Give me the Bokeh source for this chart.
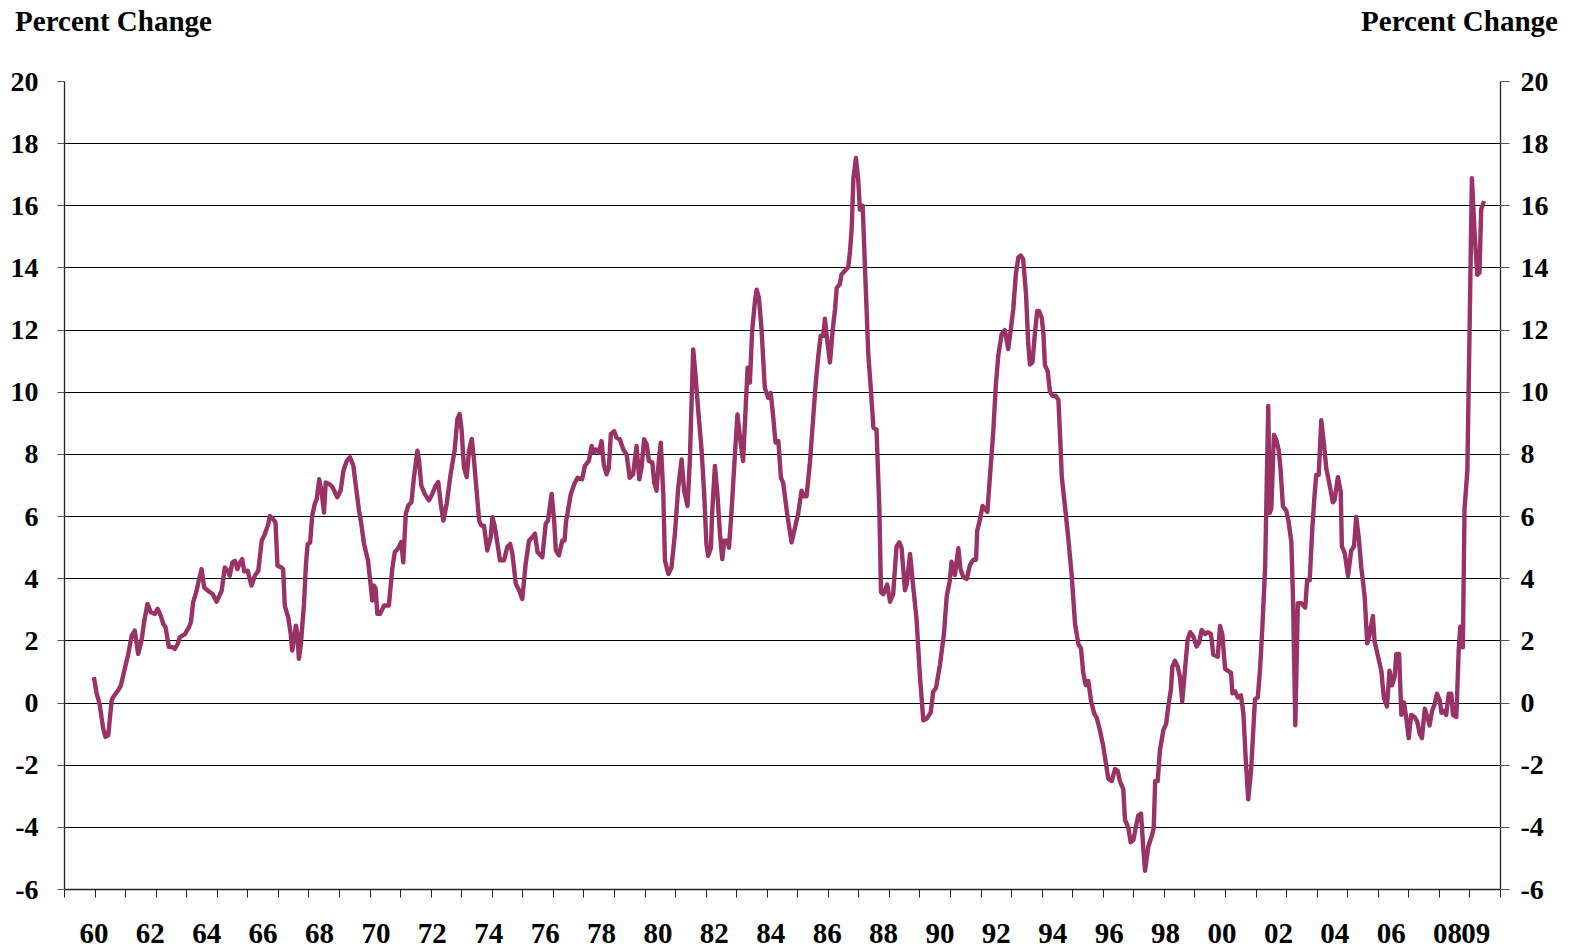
from bokeh.plotting import figure
from bokeh.models import (ColumnDataSource, LinearAxis, FixedTicker, Range1d, CustomJSTickFormatter)
from bokeh.embed import file_html
from bokeh.resources import INLINE

# ---- data: (fractional year, percent change) ----
seg_1960s = [
    (1960.0, 0.83), (1960.1, 0.30), (1960.2, -0.02), (1960.33, -0.82), (1960.41, -1.09),
    (1960.51, -1.04), (1960.63, 0.09), (1960.69, 0.2), (1960.86, 0.41), (1960.96, 0.57),
    (1961.08, 1.05), (1961.22, 1.58), (1961.34, 2.17), (1961.45, 2.33), (1961.57, 1.58),
    (1961.69, 2.01), (1961.78, 2.6), (1961.9, 3.19), (1962.02, 2.92), (1962.16, 2.87),
    (1962.26, 3.03), (1962.37, 2.81), (1962.46, 2.55), (1962.54, 2.44), (1962.66, 1.8),
    (1962.78, 1.8), (1962.87, 1.74), (1962.97, 1.9), (1963.05, 2.12), (1963.23, 2.22),
    (1963.37, 2.44), (1963.44, 2.6), (1963.52, 3.24), (1963.64, 3.61), (1963.72, 3.94),
    (1963.82, 4.31), (1963.91, 3.72), (1964.05, 3.61), (1964.21, 3.51), (1964.35, 3.26),
    (1964.53, 3.61), (1964.64, 4.36), (1964.74, 4.26), (1964.82, 4.1), (1964.91, 4.52),
    (1965.0, 4.58), (1965.09, 4.31), (1965.18, 4.52), (1965.26, 4.63), (1965.33, 4.24),
    (1965.45, 4.26), (1965.59, 3.78), (1965.71, 4.1), (1965.83, 4.26), (1965.95, 5.22),
    (1966.06, 5.43), (1966.18, 5.75), (1966.24, 6.02), (1966.36, 5.91), (1966.44, 5.81),
    (1966.51, 4.42), (1966.65, 4.36), (1966.71, 4.31), (1966.77, 3.13), (1966.89, 2.76),
    (1966.98, 2.22), (1967.03, 1.69), (1967.1, 2.06), (1967.16, 2.49), (1967.21, 2.28),
    (1967.27, 1.42), (1967.34, 1.9), (1967.45, 3.19), (1967.52, 4.47), (1967.58, 5.11),
    (1967.67, 5.17), (1967.74, 6.02), (1967.83, 6.4), (1967.9, 6.56), (1967.99, 7.2),
    (1968.07, 6.82), (1968.16, 6.13),
]
seg_1970s = [
    (1968.22, 7.1), (1968.34, 7.05), (1968.46, 6.95), (1968.63, 6.62), (1968.75, 6.84),
    (1968.85, 7.48), (1968.97, 7.8), (1969.08, 7.91), (1969.2, 7.64), (1969.28, 7.05),
    (1969.4, 6.2), (1969.48, 5.77), (1969.58, 5.12), (1969.72, 4.59), (1969.81, 3.84),
    (1969.87, 3.3), (1969.93, 3.78), (1969.99, 3.68), (1970.05, 2.87), (1970.15, 2.87),
    (1970.29, 3.14), (1970.46, 3.14), (1970.58, 4.32), (1970.67, 4.86), (1970.78, 4.96),
    (1970.9, 5.18), (1970.97, 4.53), (1971.06, 6.09), (1971.15, 6.36), (1971.26, 6.46),
    (1971.35, 7.27), (1971.47, 8.12), (1971.53, 7.8), (1971.61, 7.0), (1971.73, 6.73),
    (1971.88, 6.52), (1972.0, 6.73), (1972.12, 7.0), (1972.21, 7.11), (1972.3, 6.41),
    (1972.39, 5.87), (1972.51, 6.41), (1972.65, 7.37), (1972.79, 8.12), (1972.89, 9.14),
    (1972.97, 9.3), (1973.04, 8.77), (1973.12, 7.59), (1973.22, 7.27), (1973.3, 8.12),
    (1973.4, 8.5), (1973.48, 7.8), (1973.57, 6.84), (1973.66, 5.87), (1973.74, 5.71),
    (1973.83, 5.71), (1973.95, 4.91), (1974.07, 5.34), (1974.13, 5.98), (1974.21, 5.71),
    (1974.31, 5.12), (1974.4, 4.59), (1974.54, 4.59), (1974.66, 5.02), (1974.76, 5.12),
    (1974.84, 4.8), (1974.96, 3.84), (1975.08, 3.62), (1975.19, 3.35), (1975.31, 4.48),
    (1975.43, 5.23), (1975.55, 5.34), (1975.64, 5.45), (1975.73, 4.86), (1975.9, 4.69),
    (1976.02, 5.77), (1976.1, 5.87), (1976.23, 6.73), (1976.32, 5.87), (1976.38, 4.91),
    (1976.49, 4.75), (1976.61, 5.23), (1976.69, 5.23), (1976.74, 5.82),
    (1976.91, 6.72), (1977.03, 7.04), (1977.15, 7.25), (1977.31, 7.2), (1977.41, 7.63),
    (1977.55, 7.79), (1977.65, 8.27), (1977.74, 8.06), (1977.82, 8.16), (1977.91, 8.06),
    (1978.0, 8.43), (1978.08, 7.68), (1978.18, 7.36), (1978.26, 7.58), (1978.33, 8.65),
    (1978.45, 8.75), (1978.53, 8.54), (1978.65, 8.49), (1978.77, 8.16), (1978.89, 8.0),
    (1979.0, 7.25), (1979.12, 7.36), (1979.24, 8.27), (1979.34, 7.2), (1979.42, 7.58),
    (1979.51, 8.49), (1979.6, 8.33), (1979.68, 7.79), (1979.8, 7.74), (1979.87, 7.09),
    (1979.95, 6.83),
]
seg_1980s = [
    (1980.03, 7.79), (1980.1, 8.38), (1980.19, 6.72), (1980.25, 4.58), (1980.37, 4.15),
    (1980.48, 4.36), (1980.6, 5.43), (1980.72, 6.93), (1980.84, 7.84), (1980.93, 6.83),
    (1981.05, 6.34), (1981.13, 7.79), (1981.25, 11.38), (1981.33, 10.57), (1981.43, 9.4),
    (1981.55, 8.11), (1981.64, 6.72), (1981.72, 5.11), (1981.78, 4.74), (1981.88, 5.0),
    (1981.92, 6.08), (1982.02, 7.63), (1982.11, 6.72), (1982.2, 5.43), (1982.28, 4.63),
    (1982.35, 5.22), (1982.46, 5.22), (1982.52, 5.0), (1982.61, 6.18), (1982.73, 8.0),
    (1982.82, 9.29), (1982.91, 8.54), (1983.02, 7.79), (1983.11, 9.5), (1983.18, 10.79),
    (1983.26, 10.31), (1983.34, 11.97), (1983.44, 12.93), (1983.5, 13.3), (1983.58, 13.04),
    (1983.67, 12.07), (1983.79, 10.14), (1983.91, 9.82), (1984.0, 9.98), (1984.09, 9.18),
    (1984.17, 8.38), (1984.27, 8.43), (1984.36, 7.25), (1984.44, 7.09), (1984.6, 5.97),
    (1984.74, 5.17), (1984.86, 5.65), (1984.97, 6.08),
    (1985.09, 6.83), (1985.18, 6.65), (1985.27, 6.65), (1985.39, 7.75), (1985.51, 9.23),
    (1985.6, 10.34), (1985.69, 11.2), (1985.77, 11.82), (1985.86, 11.82), (1985.92, 12.37),
    (1986.0, 11.69), (1986.1, 10.96), (1986.19, 11.94), (1986.28, 12.68), (1986.34, 13.36),
    (1986.45, 13.48), (1986.51, 13.79), (1986.63, 13.91), (1986.75, 14.03), (1986.81, 14.53),
    (1986.87, 15.27), (1986.93, 16.87), (1987.02, 17.54), (1987.1, 16.87), (1987.16, 15.88),
    (1987.26, 16.0), (1987.34, 14.03), (1987.46, 11.2), (1987.54, 10.22), (1987.64, 8.86),
    (1987.75, 8.8), (1987.85, 6.28), (1987.91, 3.57), (1987.99, 3.5), (1988.13, 3.81),
    (1988.23, 3.26), (1988.34, 3.5), (1988.46, 5.04), (1988.56, 5.17), (1988.64, 4.98),
    (1988.76, 3.63), (1988.82, 3.81), (1988.94, 4.8), (1989.03, 3.94), (1989.17, 2.7),
    (1989.29, 0.86), (1989.41, -0.56), (1989.53, -0.5), (1989.67, -0.31), (1989.76, 0.36),
    (1989.86, 0.49),
]
seg_1990s = [
    (1990.0, 1.23), (1990.14, 2.21), (1990.24, 3.44), (1990.35, 3.94), (1990.41, 4.55),
    (1990.53, 4.12), (1990.65, 4.98), (1990.73, 4.3), (1990.83, 4.05), (1990.95, 3.99),
    (1991.06, 4.43), (1991.18, 4.61), (1991.28, 4.61), (1991.32, 5.54), (1991.42, 5.91),
    (1991.51, 6.34), (1991.68, 6.15), (1991.77, 7.26), (1991.89, 8.74), (1991.98, 10.22),
    (1992.07, 11.2), (1992.19, 11.88), (1992.3, 12.0), (1992.42, 11.39), (1992.5, 11.94),
    (1992.6, 12.68), (1992.69, 13.79), (1992.78, 14.34), (1992.86, 14.4), (1992.95, 14.28),
    (1993.05, 13.17), (1993.13, 11.57), (1993.19, 10.89), (1993.28, 10.96), (1993.37, 11.94),
    (1993.45, 12.62), (1993.51, 12.62), (1993.61, 12.39), (1993.67, 11.86), (1993.72, 10.88),
    (1993.82, 10.68), (1993.9, 10.02), (1993.98, 9.89), (1994.1, 9.89), (1994.2, 9.76),
    (1994.26, 8.58), (1994.32, 7.27), (1994.43, 6.35), (1994.55, 5.3), (1994.67, 4.12),
    (1994.79, 2.54), (1994.91, 1.89), (1995.0, 1.76), (1995.08, 0.97), (1995.17, 0.58),
    (1995.26, 0.71), (1995.36, 0.05), (1995.47, -0.34), (1995.56, -0.48), (1995.67, -0.87),
    (1995.79, -1.39), (1995.88, -1.92), (1995.97, -2.44), (1996.09, -2.51), (1996.21, -2.12),
    (1996.3, -2.18), (1996.38, -2.51), (1996.5, -2.77), (1996.56, -3.76), (1996.68, -4.02),
    (1996.76, -4.48), (1996.86, -4.41), (1996.94, -4.02), (1997.03, -3.62), (1997.13, -3.56),
    (1997.21, -4.67), (1997.27, -5.4), (1997.39, -4.61), (1997.51, -4.28), (1997.58, -4.02),
    (1997.63, -2.51), (1997.72, -2.51), (1997.8, -1.52), (1997.92, -0.87), (1998.02, -0.67),
    (1998.1, -0.08), (1998.19, 0.44), (1998.24, 1.17), (1998.33, 1.36), (1998.43, 1.17),
    (1998.51, 0.84), (1998.59, 0.05), (1998.69, 1.1), (1998.78, 2.02), (1998.87, 2.28),
    (1998.98, 2.15), (1999.1, 1.82), (1999.19, 1.95), (1999.28, 2.35), (1999.4, 2.22),
    (1999.49, 2.28), (1999.61, 2.22), (1999.69, 1.56), (1999.85, 1.49), (1999.93, 2.48),
]
seg_2000s = [
    (2000.01, 2.22), (2000.11, 1.1), (2000.23, 1.03), (2000.32, 0.97), (2000.37, 0.31),
    (2000.46, 0.38), (2000.56, 0.18), (2000.67, 0.25), (2000.76, -0.34), (2000.84, -1.79),
    (2000.93, -3.1), (2001.03, -2.18), (2001.11, -0.87), (2001.17, 0.12), (2001.27, 0.18),
    (2001.35, 1.1), (2001.43, 2.41), (2001.53, 4.38), (2001.58, 6.74), (2001.64, 9.56),
    (2001.69, 6.12), (2001.75, 6.26), (2001.84, 8.63), (2001.92, 8.49), (2002.01, 8.15),
    (2002.08, 7.48), (2002.16, 6.33), (2002.28, 6.19), (2002.36, 5.85), (2002.46, 5.17),
    (2002.52, 3.28), (2002.6, -0.72), (2002.69, 3.21), (2002.81, 3.21), (2002.95, 3.07),
    (2003.02, 3.95), (2003.11, 3.95), (2003.2, 5.58), (2003.28, 6.66), (2003.34, 7.34),
    (2003.43, 7.34), (2003.52, 9.1), (2003.62, 8.29), (2003.7, 7.54), (2003.79, 7.14),
    (2003.93, 6.46), (2003.99, 6.53), (2004.11, 7.27), (2004.21, 6.8), (2004.25, 5.04),
    (2004.35, 4.83), (2004.47, 4.09), (2004.58, 4.9), (2004.68, 5.04), (2004.76, 5.99),
    (2004.85, 5.31), (2004.94, 4.36), (2005.06, 3.41), (2005.15, 1.92), (2005.23, 2.19),
    (2005.35, 2.8), (2005.41, 1.99), (2005.53, 1.51), (2005.65, 1.04), (2005.74, 0.16),
    (2005.85, -0.11), (2005.94, 1.04), (2006.03, 0.57), (2006.12, 0.84), (2006.18, 1.58),
    (2006.28, 1.58), (2006.36, -0.38), (2006.45, 0.02), (2006.54, -0.52), (2006.62, -1.13),
    (2006.71, -0.38), (2006.83, -0.45), (2006.92, -0.59), (2007.01, -0.99), (2007.09, -1.13),
    (2007.19, -0.18), (2007.28, -0.45), (2007.36, -0.72), (2007.45, -0.25), (2007.54, -0.04),
    (2007.62, 0.3), (2007.72, 0.09), (2007.78, -0.31), (2007.87, -0.25), (2007.95, -0.38),
    (2008.04, 0.3), (2008.13, 0.3), (2008.19, -0.38), (2008.31, -0.45), (2008.39, 1.65),
    (2008.45, 2.46), (2008.54, 1.79), (2008.6, 6.26), (2008.7, 7.48), (2008.78, 12.08),
    (2008.86, 16.89), (2008.96, 15.07), (2009.05, 13.78), (2009.13, 13.85), (2009.19, 15.88),
    (2009.29, 16.15),
]

label_years = list(range(1960, 2009, 2)) + [2009]
y_ticks = list(range(-6, 21, 2))
header_text = "Percent Change"

# ---- build ----
pts = seg_1960s + seg_1970s + seg_1980s + seg_1990s + seg_2000s
src = ColumnDataSource(data=dict(year=[p[0] for p in pts], pct=[p[1] for p in pts]))

x_start = 1959 - 1 / 24.0          # category axis starts half a month before Jan 1959
x_end = x_start + 611 / 12.0       # 611 monthly categories
FONT = "Liberation Serif"
W, H = 1566, 948
BL, BR, BT, BB = 64, 66, 81, 59
px_per_year = (W - BL - BR) / (x_end - x_start)

p = figure(width=W, height=H, output_backend="svg", toolbar_location=None,
           x_range=Range1d(x_start, x_end), y_range=Range1d(-6, 20),
           min_border_left=BL, min_border_right=BR, min_border_top=BT, min_border_bottom=BB,
           background_fill_color="white", border_fill_color="white")
p.outline_line_color = None

p.line("year", "pct", source=src, line_color="#993366", line_width=4.4, line_join="round")

# grid
p.xgrid.visible = False
p.ygrid.ticker = FixedTicker(ticks=y_ticks)
p.ygrid.grid_line_color = "#000000"
p.ygrid.grid_line_width = 1

# x axis
xa = p.xaxis[0]
minor = [x_start + k * 13 / 12.0 for k in range(48)]
xa.ticker = FixedTicker(ticks=label_years, minor_ticks=minor)
xa.major_label_overrides = {y: f"{y % 100:02d}" for y in label_years}
xa.major_tick_out = 0
xa.major_tick_in = 0
xa.minor_tick_out = 8
xa.minor_tick_in = 0
xa.minor_tick_line_color = "#222222"
xa.axis_line_color = "#222222"
xa.axis_line_width = 1.3
xa.major_label_standoff = 26
xa.major_label_text_font = FONT
xa.major_label_text_font_style = "bold"
xa.major_label_text_font_size = "29px"
xa.major_label_text_color = "black"

# y axes (left and right)
ya = p.yaxis[0]
ya_r = LinearAxis()
p.add_layout(ya_r, "right")
for ax, out, stand in ((ya, 7, 19), (ya_r, 9, 11)):
    ax.ticker = FixedTicker(ticks=y_ticks)
    ax.major_label_overrides = {v: str(v) for v in y_ticks}
    ax.major_tick_out = out
    ax.major_tick_in = 0
    ax.minor_tick_out = 0
    ax.minor_tick_in = 0
    ax.major_tick_line_color = "#555555"
    ax.axis_line_color = "#222222"
    ax.axis_line_width = 1.3
    ax.major_label_standoff = stand
    ax.major_label_text_font = FONT
    ax.major_label_text_font_style = "bold"
    ax.major_label_text_font_size = "28px"
    ax.major_label_text_color = "black"

# headers "Percent Change" above both y axes, drawn as labels of an axis above the plot
hdr_left = round(x_start + (113 - BL) / px_per_year, 3)
hdr_right = round(x_end - (BL + (W - BL - BR) - 1459) / px_per_year, 3)
top = LinearAxis(ticker=FixedTicker(ticks=[hdr_left, hdr_right]),
                 formatter=CustomJSTickFormatter(code=f"return '{header_text}'"))
top.axis_line_color = None
top.major_tick_line_color = None
top.minor_tick_line_color = None
top.major_label_standoff = 39
top.major_label_text_font = FONT
top.major_label_text_font_style = "bold"
top.major_label_text_font_size = "29px"
top.major_label_text_color = "black"
p.add_layout(top, "above")

open("out.html", "w").write(file_html(p, INLINE))
